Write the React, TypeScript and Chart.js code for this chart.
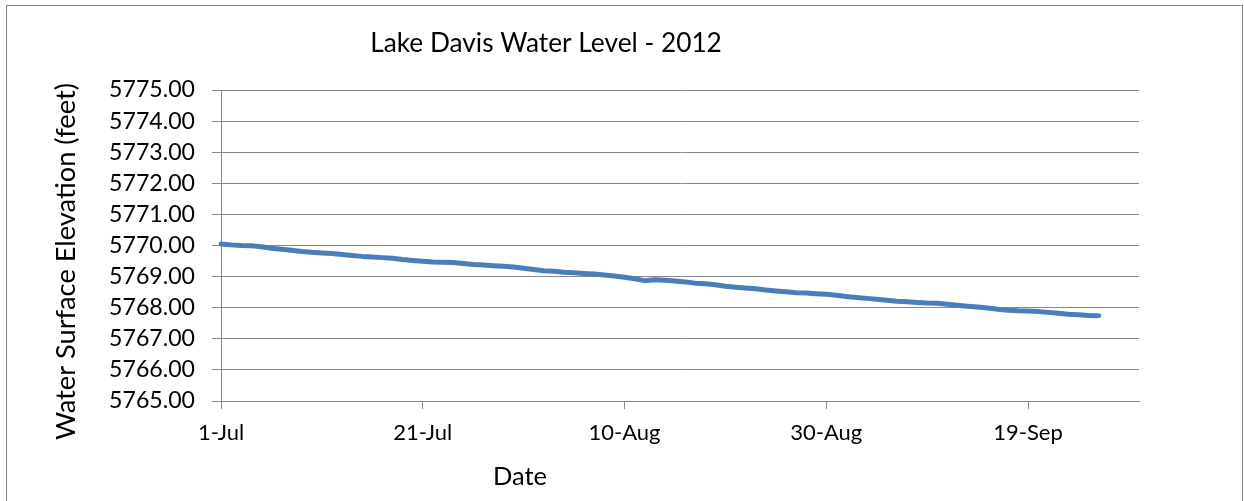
import React, { useEffect, useRef } from "react";
import { Chart, registerables } from "chart.js";

Chart.register(...registerables);

// ---- Data ----
const chartTitle = "Lake Davis Water Level - 2012";
const xAxisTitle = "Date";
const yAxisTitle = "Water Surface Elevation (feet)";

const monthNames = ["Jul", "Aug", "Sep"];
const monthDays = [31, 31, 30];

// Daily water surface elevation (feet), 1-Jul .. 26-Sep 2012
const elevations = [
  5770.05, 5770.02, 5770.0, 5769.99, 5769.96, 5769.91, 5769.88, 5769.85, 5769.81, 5769.78,
  5769.76, 5769.74, 5769.71, 5769.68, 5769.65, 5769.63, 5769.61, 5769.59, 5769.55, 5769.52,
  5769.49, 5769.47, 5769.46, 5769.45, 5769.42, 5769.39, 5769.37, 5769.35, 5769.33, 5769.31,
  5769.27, 5769.23, 5769.19, 5769.17, 5769.14, 5769.12, 5769.1, 5769.08, 5769.05, 5769.02,
  5768.98, 5768.93, 5768.87, 5768.9, 5768.88, 5768.86, 5768.83, 5768.79, 5768.77, 5768.74,
  5768.69, 5768.66, 5768.63, 5768.61, 5768.57, 5768.54, 5768.51, 5768.48, 5768.47, 5768.45,
  5768.43, 5768.4, 5768.36, 5768.33, 5768.3, 5768.27, 5768.24, 5768.21, 5768.19, 5768.17,
  5768.15, 5768.14, 5768.11, 5768.08, 5768.05, 5768.02, 5767.99, 5767.95, 5767.92, 5767.9,
  5767.89, 5767.88, 5767.85, 5767.82, 5767.79, 5767.77, 5767.75, 5767.74,
];

// Axis range
const yMin = 5765;
const yMax = 5775;
const yStep = 1;
const xTickEvery = 20;

// Category labels: every day 1-Jul .. 30-Sep
const dateLabels: string[] = [];
monthNames.forEach((m, i) => {
  for (let d = 1; d <= monthDays[i]; d++) dateLabels.push(`${d}-${m}`);
});

const FONT = "Lato, 'Open Sans', sans-serif";

function fitSize(text: string, target: number): number {
  const c = document.createElement("canvas").getContext("2d")!;
  c.font = `100px ${FONT}`;
  const w = c.measureText(text).width;
  return (100 * target) / w;
}

export default function App() {
  const ref = useRef<HTMLCanvasElement>(null);

  useEffect(() => {
    document.body.style.margin = "0";
    const canvas = ref.current!;

    const titleSize = fitSize(chartTitle, 352);
    const yTickSize = fitSize("5765.00", 86);
    const xTickSize = fitSize("10-Aug", 72);
    const dateSize = fitSize(xAxisTitle, 54);
    const yTitleSize = fitSize(yAxisTitle, 357);

    const decor = {
      id: "decor",
      beforeDraw(chart: any) {
        const ctx = chart.ctx;
        ctx.save();
        ctx.fillStyle = "#ffffff";
        ctx.fillRect(0, 0, chart.width, chart.height);
        ctx.strokeStyle = "#868686";
        ctx.lineWidth = 1;
        ctx.strokeRect(6.5, 5.5, 1236, 500);
        ctx.restore();
      },
      afterDraw(chart: any) {
        const ctx = chart.ctx;
        ctx.save();
        ctx.fillStyle = "#000000";
        ctx.textAlign = "center";
        ctx.textBaseline = "alphabetic";
        ctx.font = `${titleSize}px ${FONT}`;
        ctx.fillText(chartTitle, 546, 52);
        ctx.font = `${dateSize}px ${FONT}`;
        ctx.fillText(xAxisTitle, 520, 485);
        ctx.translate(75, 261.5);
        ctx.rotate(-Math.PI / 2);
        ctx.font = `${yTitleSize}px ${FONT}`;
        ctx.fillText(yAxisTitle, 0, 0);
        ctx.restore();
      },
    };

    const chart = new Chart(canvas, {
      type: "line",
      data: {
        labels: dateLabels,
        datasets: [
          {
            data: elevations,
            borderColor: "#4a7ebb",
            backgroundColor: "#4a7ebb",
            borderWidth: 5,
            pointRadius: 0,
            tension: 0,
            borderCapStyle: "round",
            borderJoinStyle: "round",
            fill: false,
          },
        ],
      },
      options: {
        responsive: false,
        animation: false,
        devicePixelRatio: 1,
        layout: { padding: { left: 0, top: 90, right: 105, bottom: 0 } },
        plugins: {
          legend: { display: false },
          title: { display: false },
          tooltip: { enabled: false },
        },
        scales: {
          x: {
            type: "category",
            offset: false,
            grid: {
              drawOnChartArea: false,
              drawTicks: true,
              tickLength: 8,
              color: "#898989",
            },
            border: { color: "#898989" },
            ticks: {
              autoSkip: false,
              maxRotation: 0,
              minRotation: 0,
              padding: 11,
              color: "#000000",
              font: { family: FONT, size: xTickSize },
              callback: (_v: any, i: number) => (i % xTickEvery === 0 ? dateLabels[i] : null),
            },
            afterFit: (s: any) => {
              s.height = 100;
            },
          },
          y: {
            min: yMin,
            max: yMax,
            grid: {
              color: "#898989",
              tickLength: 9,
              drawTicks: true,
            },
            border: { color: "#898989" },
            ticks: {
              stepSize: yStep,
              padding: 17,
              color: "#000000",
              font: { family: FONT, size: yTickSize },
              callback: (v: any) => Number(v).toFixed(2),
            },
            afterFit: (s: any) => {
              s.width = 221;
            },
          },
        },
      },
      plugins: [decor],
    } as any);

    return () => chart.destroy();
  }, []);

  return (
    <div style={{ width: 1244, height: 501 }}>
      <canvas ref={ref} width={1244} height={501} style={{ width: 1244, height: 501, display: "block" }} />
    </div>
  );
}
